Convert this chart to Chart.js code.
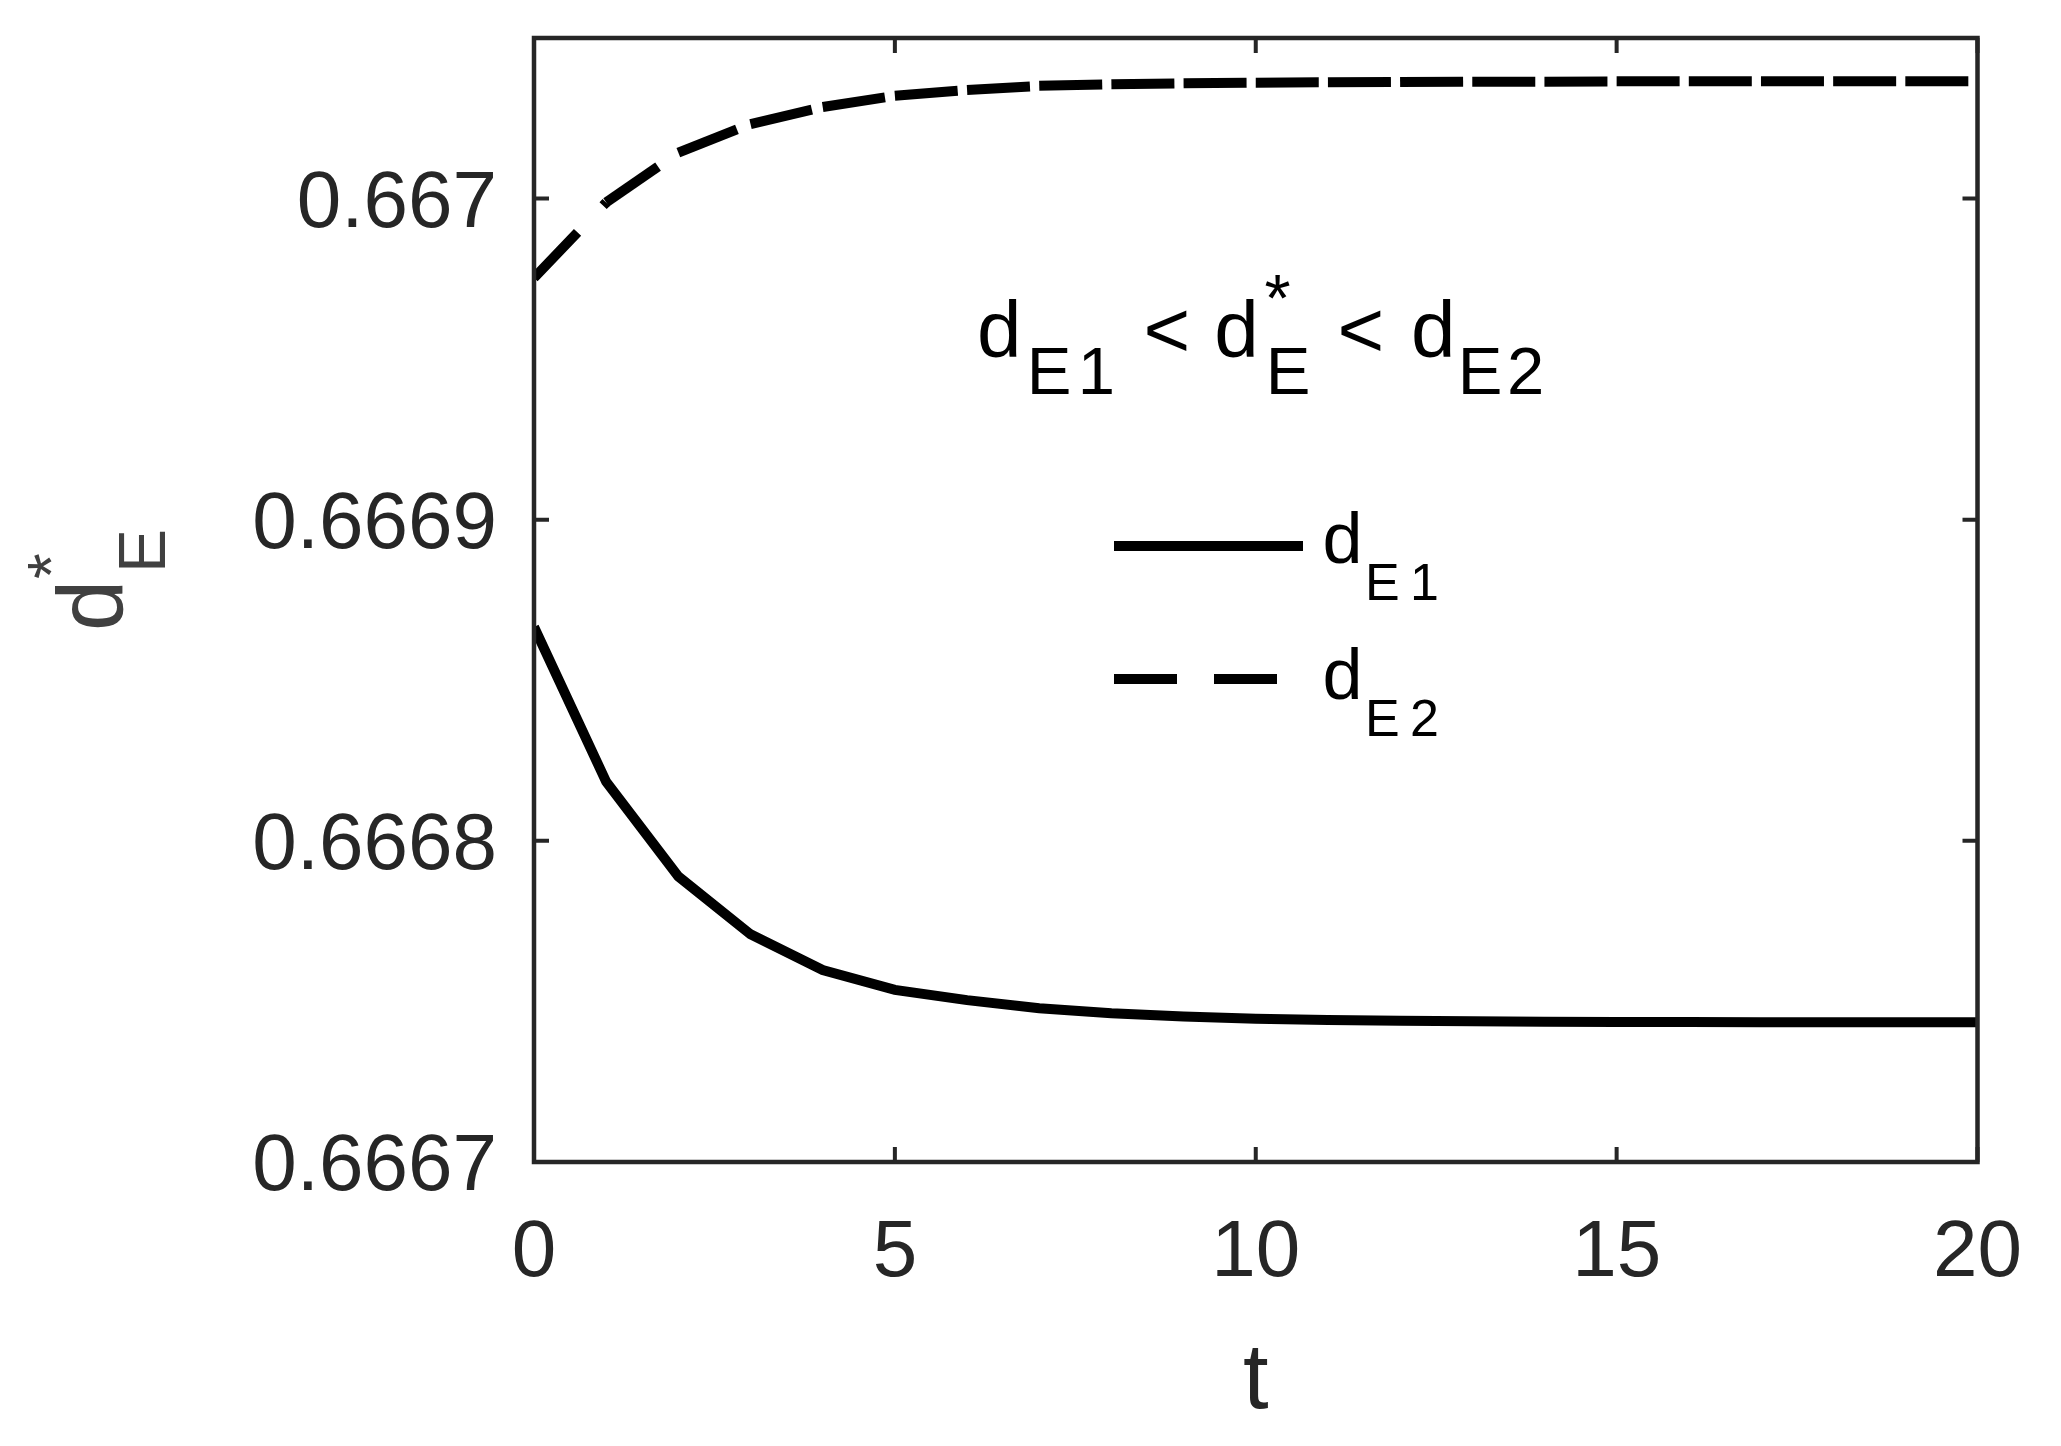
<!DOCTYPE html>
<html>
<head>
<meta charset="utf-8">
<script src="https://cdn.jsdelivr.net/npm/chart.js@4.4.1/dist/chart.umd.min.js"></script>
<style>
  html, body { margin: 0; padding: 0; background: #ffffff; }
  #wrap { width: 2061px; height: 1446px; }
</style>
</head>
<body>
<div id="wrap"><canvas id="c" width="2061" height="1446"></canvas></div>
<script>
// ---------------- data ----------------
const tValues = [0,1,2,3,4,5,6,7,8,9,10,11,12,13,14,15,16,17,18,19,20];
const dE1 = [0.6668666, 0.6668184, 0.6667889, 0.6667709, 0.6667598, 0.6667536, 0.6667504,
             0.6667479, 0.6667463, 0.6667453, 0.6667446, 0.6667442, 0.6667440, 0.6667438,
             0.6667437, 0.6667436, 0.6667436, 0.6667435, 0.6667435, 0.6667435, 0.6667435];
const dE2 = [0.6669753, 0.6669988, 0.6670143, 0.6670232, 0.6670285, 0.6670320, 0.6670338,
             0.6670351, 0.6670356, 0.6670359, 0.6670361, 0.6670362, 0.6670363, 0.6670364,
             0.6670364, 0.6670365, 0.6670365, 0.6670365, 0.6670365, 0.6670365, 0.6670365];
const xTicks = [0, 5, 10, 15, 20];
const xTickLabels = ['0', '5', '10', '15', '20'];
const yTicks = [0.6667, 0.6668, 0.6669, 0.667];
const yTickLabels = ['0.6667', '0.6668', '0.6669', '0.667'];
const xRange = [0, 20];
const yRange = [0.6667, 0.66705];
const seriesNames = ['d_E1', 'd_E2'];

// ---------------- style ----------------
const FONT = '"Liberation Sans", Arial, Helvetica, sans-serif';
const AXIS_COLOR = '#262626';
const TICK_LEN = 15;

function labelIndex(list, v) {
  return list.findIndex(t => Math.abs(t - v) < 1e-9);
}

function txt(ctx, s, x, y, size, color) {
  ctx.font = size + 'px ' + FONT;
  ctx.fillStyle = color;
  ctx.textAlign = 'left';
  ctx.textBaseline = 'alphabetic';
  ctx.fillText(s, x, y);
}

const framePlugin = {
  id: 'framePlugin',
  afterDraw(chart) {
    const { ctx, chartArea: a, scales: { x, y } } = chart;
    ctx.save();
    // axes box
    ctx.setLineDash([]);
    ctx.strokeStyle = AXIS_COLOR;
    ctx.lineJoin = 'miter';
    ctx.lineWidth = 4.5;
    ctx.strokeRect(a.left, a.top, a.right - a.left, a.bottom - a.top);
    // inward ticks
    ctx.lineWidth = 4;
    ctx.beginPath();
    xTicks.forEach(v => {
      const px = x.getPixelForValue(v);
      ctx.moveTo(px, a.bottom); ctx.lineTo(px, a.bottom - TICK_LEN);
      ctx.moveTo(px, a.top); ctx.lineTo(px, a.top + TICK_LEN);
    });
    yTicks.forEach(v => {
      const py = y.getPixelForValue(v);
      ctx.moveTo(a.left, py); ctx.lineTo(a.left + TICK_LEN, py);
      ctx.moveTo(a.right, py); ctx.lineTo(a.right - TICK_LEN, py);
    });
    ctx.stroke();

    // y-axis title  d_E^*
    ctx.save();
    ctx.translate(122, 631);
    ctx.rotate(-Math.PI / 2);
    txt(ctx, 'd', 0, 0, 92, '#404040');
    txt(ctx, '*', 52, -48, 66, '#404040');
    txt(ctx, 'E', 58, 43, 66, '#404040');
    ctx.restore();

    // annotation  d_E1 < d_E^* < d_E2
    const C = '#000000';
    txt(ctx, 'd', 977, 357, 80, C);
    txt(ctx, 'E', 1026.7, 394, 67, C);
    txt(ctx, '1', 1077.7, 394, 67, C);
    txt(ctx, '<', 1143.4, 357, 80, C);
    txt(ctx, 'd', 1214.3, 357, 80, C);
    txt(ctx, '*', 1264.4, 321, 67, C);
    txt(ctx, 'E', 1265.7, 394, 67, C);
    txt(ctx, '<', 1337.4, 357, 80, C);
    txt(ctx, 'd', 1411, 357, 80, C);
    txt(ctx, 'E', 1457.7, 394, 67, C);
    txt(ctx, '2', 1507, 394, 67, C);

    // legend
    const rows = [
      { ds: chart.data.datasets[0], ly: 546, base: 563, sub: '1' },
      { ds: chart.data.datasets[1], ly: 679, base: 699, sub: '2' }
    ];
    rows.forEach(r => {
      ctx.save();
      ctx.strokeStyle = r.ds.borderColor;
      ctx.lineWidth = r.ds.borderWidth;
      ctx.lineCap = 'butt';
      ctx.setLineDash(r.ds.borderDash || []);
      ctx.beginPath();
      ctx.moveTo(1114, r.ly);
      ctx.lineTo(1303, r.ly);
      ctx.stroke();
      ctx.restore();
      txt(ctx, 'd', 1322.6, r.base, 72, C);
      txt(ctx, 'E', 1365, r.base + 37, 52, C);
      txt(ctx, r.sub, 1410, r.base + 37, 52, C);
    });
    ctx.restore();
  }
};

new Chart(document.getElementById('c'), {
  type: 'line',
  data: {
    datasets: [
      {
        label: seriesNames[0],
        data: tValues.map((t, i) => ({ x: t, y: dE1[i] })),
        borderColor: '#000000',
        borderWidth: 10,
        borderDash: [],
        pointRadius: 0,
        tension: 0,
        fill: false
      },
      {
        label: seriesNames[1],
        data: tValues.map((t, i) => ({ x: t, y: dE2[i] })),
        borderColor: '#000000',
        borderWidth: 10,
        borderDash: [63, 37],
        pointRadius: 0,
        tension: 0,
        fill: false,
        // restart the dash pattern on each segment (as the original renderer does)
        segment: { borderDashOffset: c => (c.p0DataIndex % 2) * 0.001 }
      }
    ]
  },
  options: {
    responsive: false,
    animation: false,
    devicePixelRatio: 1,
    layout: { padding: { top: 38, right: 83.5, left: 0, bottom: 0 } },
    plugins: { legend: { display: false }, tooltip: { enabled: false } },
    scales: {
      x: {
        type: 'linear',
        min: xRange[0],
        max: xRange[1],
        afterBuildTicks: s => { s.ticks = xTicks.map(v => ({ value: v })); },
        afterFit: s => { s.height = 284; s.paddingLeft = 0; s.paddingRight = 0; },
        grid: { display: false, drawTicks: false },
        border: { display: false },
        ticks: {
          autoSkip: false,
          maxRotation: 0,
          padding: 44,
          color: AXIS_COLOR,
          font: { family: FONT, size: 80 },
          callback: v => xTickLabels[labelIndex(xTicks, v)]
        },
        title: {
          display: true,
          text: 't',
          color: AXIS_COLOR,
          font: { family: FONT, size: 92 },
          padding: { top: 0, bottom: 8 }
        }
      },
      y: {
        type: 'linear',
        min: yRange[0],
        max: yRange[1],
        afterBuildTicks: s => { s.ticks = yTicks.map(v => ({ value: v })); },
        afterFit: s => { s.width = 534; s.paddingTop = 0; s.paddingBottom = 0; },
        grid: { display: false, drawTicks: false },
        border: { display: false },
        ticks: {
          autoSkip: false,
          padding: 37,
          labelOffset: 6,
          color: AXIS_COLOR,
          font: { family: FONT, size: 80 },
          callback: v => yTickLabels[labelIndex(yTicks, v)]
        }
      }
    }
  },
  plugins: [framePlugin]
});
</script>
</body>
</html>
